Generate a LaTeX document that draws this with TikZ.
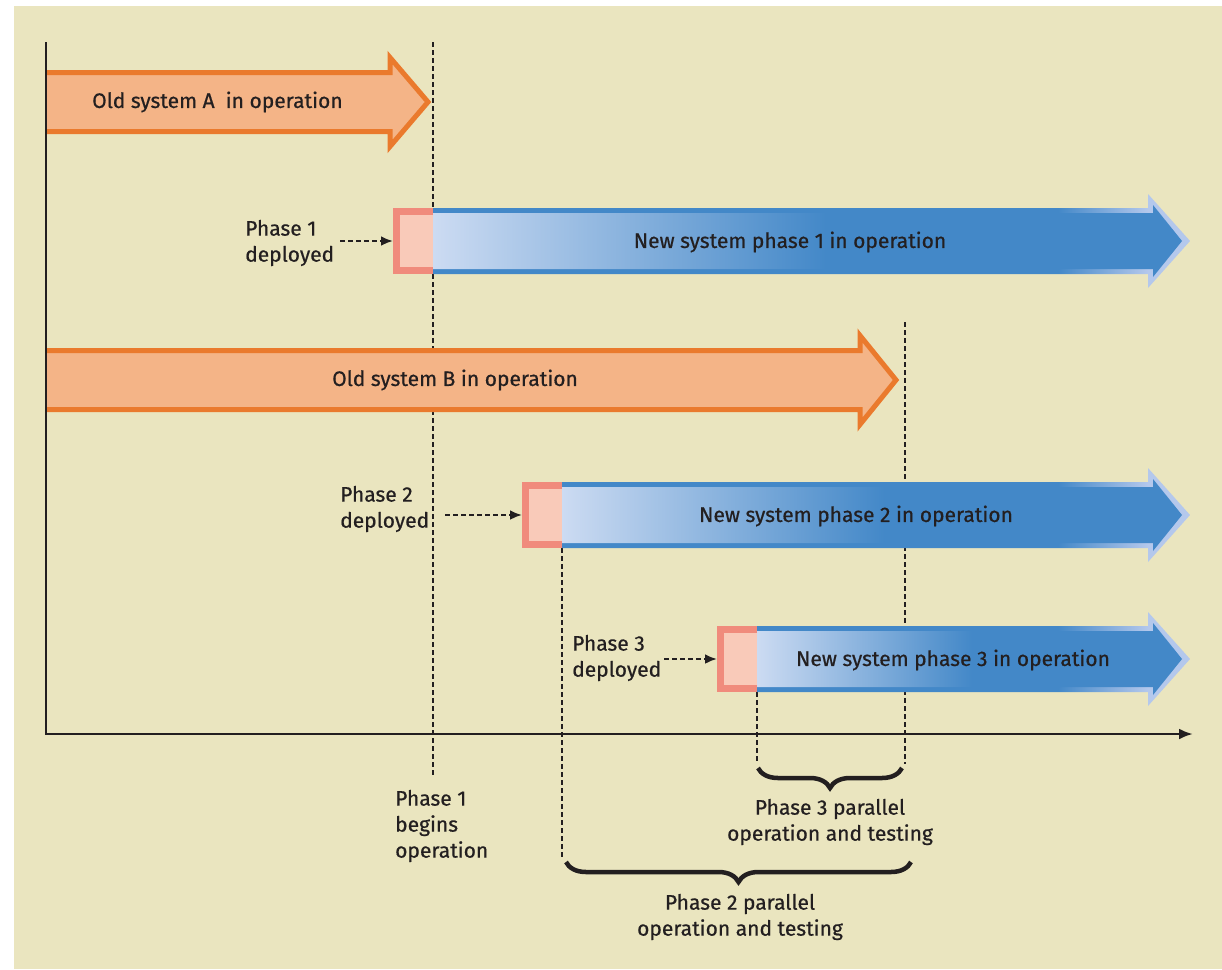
\documentclass[tikz,border=0pt]{standalone}
\usepackage{fontspec}
\setmainfont{Fira Sans}[FakeBold=0.6]
\usetikzlibrary{arrows.meta,decorations.pathreplacing,calc}

\definecolor{bg}{HTML}{EAE5BF}
\definecolor{oaFill}{HTML}{F4B487}
\definecolor{oaLine}{HTML}{EA7A2D}
\definecolor{nsDark}{HTML}{4388C8}
\definecolor{nsLight}{HTML}{CCDBF2}
\definecolor{nsRim}{HTML}{B4C8EC}
\definecolor{pkLine}{HTML}{F08B7C}
\definecolor{pkFill}{HTML}{F9CAB9}
\definecolor{ink}{HTML}{231F20}

% orange bar for a legacy system: #1 centre y, #2 head base x, #3 tip x
\newcommand\oldsysarrow[3]{%
  \filldraw[fill=oaFill, draw=oaLine, line width=5pt, miter limit=10]
    (46,#1-29.5) -- (#2,#1-29.5) -- (#2,#1-44.5) -- (#3-4,#1)
    -- (#2,#1+44.5) -- (#2,#1+29.5) -- (46,#1+29.5);
}

% blue bar for a new phase: #1 left x, #2 centre y, #3 head base x, #4 tip x
\newcommand\newsysarrow[4]{%
  \begin{scope}
    \clip (#1,#2-33) -- (#3,#2-33) -- (#3,#2-47) -- (#4,#2)
      -- (#3,#2+47) -- (#3,#2+33) -- (#1,#2+33) -- cycle;
    \fill[nsDark] (#1,#2-50) rectangle (#3-90,#2+50);
    \shade[left color=nsDark, right color=nsRim] (#3-90,#2-50) rectangle (#3,#2+50);
    \fill[nsRim] (#3,#2-50) rectangle (#4,#2+50);
  \end{scope}
  \begin{scope}
    \clip (#1,#2-28) -- (#3+5,#2-28) -- (#3+5,#2-36) -- (#4-8,#2)
      -- (#3+5,#2+36) -- (#3+5,#2+28) -- (#1,#2+28) -- cycle;
    \fill[nsDark] (#1,#2-50) rectangle (#4,#2+50);
    \shade[left color=nsLight, right color=nsDark]
      (#1,#2-50) rectangle ({#1+0.55*(#3-#1)},#2+50);
  \end{scope}
}

\tikzset{
  lbl/.style={font=\fontsize{21}{26}\selectfont, text=ink, inner sep=0pt},
  pkbox/.style={draw=pkLine, fill=pkFill, line width=7pt,
    minimum width=40pt, minimum height=59pt, inner sep=0pt},
  guide/.style={line width=2.6pt, dash pattern=on 5pt off 3pt, ink},
  conn/.style={line width=2.4pt, dash pattern=on 5pt off 3pt, ink,
    -{Latex[length=12pt,width=10pt]}},
  span/.style={line width=4.5pt, ink, decorate,
    decoration={brace, mirror, amplitude=20pt, aspect=0.5}},
}

\begin{document}
\begin{tikzpicture}[x=1pt, y=-1pt]
  \useasboundingbox (0,0) rectangle (1222,969);
  \fill[white] (0,0) rectangle (1222,969);
  \fill[bg] (14,6) rectangle (1222,969);

  % time markers
  \draw[guide] (433,42) -- (433,775);
  \draw[guide] (905,322) -- (905,764);
  \draw[guide] (562,548) -- (562,857);
  \draw[guide] (757,692) -- (757,763);

  % legacy systems
  \oldsysarrow{102}{390}{432}
  \node[lbl, anchor=west] (oldA) at (92,102) {Old system A\ \ in operation};
  \oldsysarrow{380}{860}{900}
  \node[lbl] (oldB) at (455,380) {Old system B in operation};

  % phase 1
  \node[pkbox] (p1box) at (416.5,241) {};
  \newsysarrow{433}{241}{1148}{1190}
  \node[lbl] (new1) at (790,242) {New system phase 1 in operation};
  \node[lbl, anchor=west, align=left] (p1lbl) at (245,243) {Phase 1\\deployed};
  \draw[conn, shorten <=6pt] (p1lbl.east |- p1box.west) -- (p1box.west);

  % phase 2
  \node[pkbox] (p2box) at (545.5,515) {};
  \newsysarrow{562}{515}{1148}{1190}
  \node[lbl] (new2) at (856,516) {New system phase 2 in operation};
  \node[lbl, anchor=west, align=left] (p2lbl) at (340,509) {Phase 2\\deployed};
  \draw[conn, shorten <=16pt] (p2lbl.east |- p2box.west) -- (p2box.west);

  % phase 3
  \node[pkbox] (p3box) at (740.5,659) {};
  \newsysarrow{757}{659}{1148}{1190}
  \node[lbl] (new3) at (953,660) {New system phase 3 in operation};
  \node[lbl, anchor=west, align=left] (p3lbl) at (572,658) {Phase 3\\deployed};
  \draw[conn, shorten <=3pt] (p3lbl.east |- p3box.west) -- (p3box.west);

  % axes
  \draw[line width=2.8pt, ink, -{Latex[length=14pt,width=11pt]}]
    (46,42) -- (46,734) -- (1193,734);

  % parallel-running spans
  \draw[span] (758,768) -- (902,768);
  \node[lbl, align=center] (span3) at (830,822) {Phase 3 parallel\\operation and testing};
  \draw[span] (566,862) -- (911,862);
  \node[lbl, align=center] (span2) at (740,917) {Phase 2 parallel\\operation and testing};

  \node[lbl, anchor=west, align=left] (p1begin) at (395,826) {Phase 1\\begins\\operation};
\end{tikzpicture}
\end{document}
